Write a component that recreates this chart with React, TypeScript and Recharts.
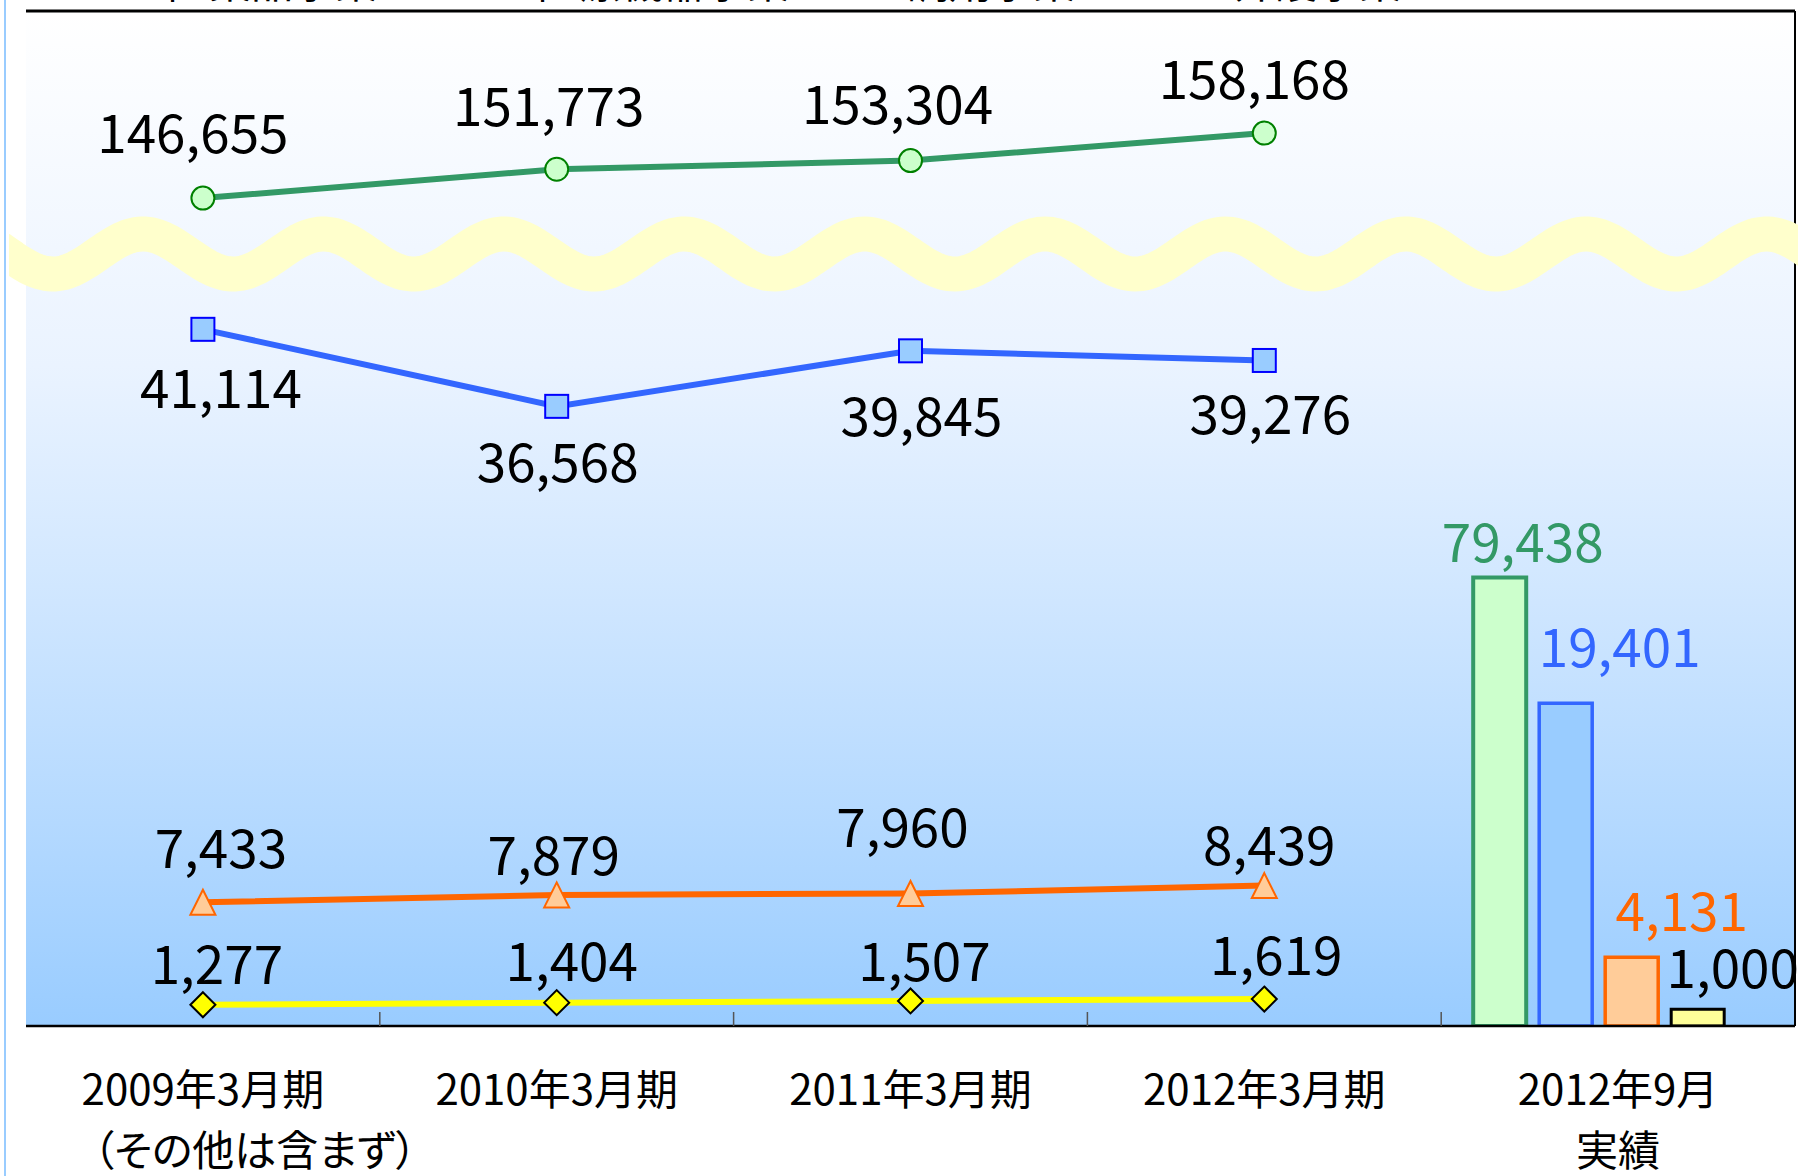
import React from "react";
import {
  ComposedChart,
  Line,
  Bar,
  XAxis,
  YAxis,
  CartesianGrid,
  LabelList,
  Legend,
  Rectangle,
} from "recharts";

const W = 1798;
const H = 1176;
const FONT = '"Noto Sans CJK JP", "Noto Sans", sans-serif';

// categories
const periods = ["2009年3月期", "2010年3月期", "2011年3月期", "2012年3月期", "2012年9月"];
const periodNotes = ["（その他は含まず）", "", "", "", "実績"];

// legend (only the bottom edge shows in the picture)
const seriesNames = ["医薬品事業", "医療機器事業", "調剤事業", "介護事業"];

// yearly values, one list per business
const greenLine = [146655, 151773, 153304, 158168, null];
const blueLine = [41114, 36568, 39845, 39276, null];
const orangeLine = [7433, 7879, 7960, 8439, null];
const yellowLine = [1277, 1404, 1507, 1619, null];

// 2012年9月 実績 bars: green, blue, orange, yellow
const latestBars = [79438, 19401, 4131, 1000];

// axis ranges (the chart uses a broken scale, so each group has its own)
const mainDomain = [0, 61000];
const blueDomain = [0, 59900];
const greenDomain = [0, 179800];

// hand placed label nudges [dx, dy] from each point / bar top
const greenLabelNudge = [[-10, -45], [-8, -43], [-13, -37], [-10, -34]];
const blueLabelNudge = [[18, 79], [1, 76], [11, 85], [6, 74]];
const orangeLabelNudge = [[18, -34], [-3, -20], [-8, -47], [5, -21]];
const yellowLabelNudge = [[14, -21], [15, -22], [14, -20], [12, -24]];
const barLabelNudge = [[23, -16], [54, -36], [50, -26], [35, -21]];

const BAR_SHIFT = -19;

const rows = periods.map((period, i) => ({
  period,
  slot: i + 0.5, // position on the helper axis that draws the boundary ticks
  green: greenLine[i],
  blue: blueLine[i],
  orange: orangeLine[i],
  yellow: yellowLine[i],
  greenBar: i === periods.length - 1 ? latestBars[0] : null,
  blueBar: i === periods.length - 1 ? latestBars[1] : null,
  orangeBar: i === periods.length - 1 ? latestBars[2] : null,
  yellowBar: i === periods.length - 1 ? latestBars[3] : null,
}));

const fmt = (v: number) => v.toLocaleString("en-US");

function makeLabel(nudges: number[][], color: string, shift = 0) {
  return function ValueLabel(props: any) {
    const { value } = props;
    if (value == null) return null;
    const vb = props.viewBox ?? {};
    const x = (props.x ?? vb.x) as number;
    const y = (props.y ?? vb.y) as number;
    const w = (props.width ?? vb.width ?? 0) as number;
    const idx = props.index ?? 0;
    const [dx, dy] = nudges[idx] ?? [0, 0];
    return (
      <text
        x={x + w / 2 + shift + dx}
        y={y + dy}
        textAnchor="middle"
        fontSize={53}
        fontFamily={FONT}
        fill={color}
      >
        {fmt(Number(value))}
      </text>
    );
  };
}

// bar labels are coloured like the bar outlines
const barLabelColors = ["#339966", "#3366FF", "#FF6600", "#000000"];
function makeBarLabel(n: number) {
  const nudge = periods.map(() => barLabelNudge[n]);
  return makeLabel(nudge, barLabelColors[n], BAR_SHIFT);
}

const circleDot = (p: any) =>
  p.cy == null || p.value == null ? (
    <g key={`c${p.index}`} />
  ) : (
    <circle key={`c${p.index}`} cx={p.cx} cy={p.cy} r={11.5} fill="#CCFFCC" stroke="#008000" strokeWidth={2} />
  );

const squareDot = (p: any) =>
  p.cy == null || p.value == null ? (
    <g key={`s${p.index}`} />
  ) : (
    <rect key={`s${p.index}`} x={p.cx - 11.5} y={p.cy - 11.5} width={23} height={23} fill="#99CCFF" stroke="#0000FF" strokeWidth={2} />
  );

const triangleDot = (p: any) =>
  p.cy == null || p.value == null ? (
    <g key={`t${p.index}`} />
  ) : (
    <polygon
      key={`t${p.index}`}
      points={`${p.cx},${p.cy - 12.5} ${p.cx + 12.5},${p.cy + 12.5} ${p.cx - 12.5},${p.cy + 12.5}`}
      fill="#FFCC99"
      stroke="#FF6600"
      strokeWidth={2}
    />
  );

const diamondDot = (p: any) =>
  p.cy == null || p.value == null ? (
    <g key={`d${p.index}`} />
  ) : (
    <polygon
      key={`d${p.index}`}
      points={`${p.cx},${p.cy - 12.5} ${p.cx + 12.5},${p.cy} ${p.cx},${p.cy + 12.5} ${p.cx - 12.5},${p.cy}`}
      fill="#FFFF00"
      stroke="#000000"
      strokeWidth={2}
    />
  );

const shiftedBar = (p: any) => <Rectangle {...p} x={p.x + BAR_SHIFT} />;

const blankTick = () => <g />;

function CategoryTick(props: any) {
  const { x, y, payload } = props;
  const idx = periods.indexOf(payload.value);
  const note = periodNotes[idx];
  const noteShift = idx === 0 ? 52 : 0;
  return (
    <g>
      <text x={x} y={y + 78} textAnchor="middle" fontSize={42} fontFamily={FONT} fill="#000">
        {payload.value}
      </text>
      {note ? (
        <text
          x={x + noteShift}
          y={y + 139}
          textAnchor="middle"
          fontSize={42}
          fontFamily={FONT}
          fill="#000"
          style={{ fontFeatureSettings: '"palt"' }}
        >
          {note}
        </text>
      ) : null}
    </g>
  );
}

function LegendStrip() {
  const places = [
    { marker: 131, text: 167 },
    { marker: 498, text: 537 },
    { marker: 0, text: 907 },
    { marker: 0, text: 1233 },
  ];
  return (
    <svg width={W} height={42} style={{ overflow: "visible", display: "block" }}>
      {seriesNames.map((name, i) => (
        <g key={name}>
          {places[i].marker ? (
            <rect x={places[i].marker} y={4} width={34} height={34} fill="#ffffff" stroke="#000" strokeWidth={2} />
          ) : null}
          <text x={places[i].text} y={40} fontSize={42} fontFamily={FONT} fill="#000">
            {name}
          </text>
        </g>
      ))}
    </svg>
  );
}

// decorative scale-break band
function wavePath() {
  const mid = 254;
  const amp = 20;
  const period = 180.4;
  const phase = 143;
  let d = "";
  for (let x = -20; x <= W + 20; x += 3) {
    const y = mid - amp * Math.cos((2 * Math.PI * (x - phase)) / period);
    d += (d ? " L" : "M") + x.toFixed(1) + " " + y.toFixed(1);
  }
  return d;
}

export default function App() {
  return (
    <div
      style={{
        position: "absolute",
        left: 0,
        top: 0,
        width: W,
        height: H,
        overflow: "hidden",
        background: "#ffffff",
      }}
    >
      <div style={{ position: "absolute", left: 4, top: 0, width: 2, height: H, background: "#99CCFF" }} />
      <ComposedChart
        width={W}
        height={H}
        data={rows}
        margin={{ top: 10, right: 2, bottom: 0, left: 25 }}
        barGap={13}
      >
        <defs>
          <linearGradient id="plotBg" x1="0" y1="0" x2="0" y2="1">
            <stop offset="0%" stopColor="#FFFFFF" />
            <stop offset="35%" stopColor="#EAF3FF" />
            <stop offset="55%" stopColor="#D3E8FF" />
            <stop offset="80%" stopColor="#B4D9FF" />
            <stop offset="100%" stopColor="#99CCFF" />
          </linearGradient>
        </defs>
        <CartesianGrid xAxisId="cat" yAxisId="main" horizontal={false} vertical={false} fill="url(#plotBg)" />

        <XAxis
          xAxisId="bound"
          type="number"
          dataKey="slot"
          domain={[0, 5]}
          ticks={[1, 2, 3, 4]}
          height={1}
          tick={blankTick}
          tickSize={-14}
          tickLine={{ stroke: "#555555", strokeWidth: 1.5 }}
          axisLine={{ stroke: "#000000", strokeWidth: 2.5 }}
          allowDataOverflow
        />
        <XAxis
          xAxisId="cat"
          dataKey="period"
          height={149}
          interval={0}
          tickLine={false}
          axisLine={false}
          tickSize={0}
          tickMargin={0}
          tick={<CategoryTick />}
        />
        <XAxis
          xAxisId="top"
          orientation="top"
          dataKey="period"
          height={1}
          tick={blankTick}
          tickLine={false}
          axisLine={{ stroke: "#000000", strokeWidth: 3 }}
        />

        <YAxis
          yAxisId="main"
          domain={mainDomain}
          width={1}
          tick={blankTick}
          tickLine={false}
          axisLine={{ stroke: "#000000", strokeWidth: 2 }}
          allowDataOverflow
        />
        <YAxis yAxisId="blue" domain={blueDomain} hide allowDataOverflow />
        <YAxis
          yAxisId="green"
          orientation="right"
          domain={greenDomain}
          width={1}
          tick={blankTick}
          tickLine={false}
          axisLine={{ stroke: "#000000", strokeWidth: 2 }}
          allowDataOverflow
        />

        <Bar xAxisId="cat" yAxisId="green" dataKey="greenBar" name={seriesNames[0]} barSize={53} fill="#CCFFCC" stroke="#339966" strokeWidth={4} shape={shiftedBar} isAnimationActive={false}>
          <LabelList dataKey="greenBar" content={makeBarLabel(0)} />
        </Bar>
        <Bar xAxisId="cat" yAxisId="main" dataKey="blueBar" name={seriesNames[1]} barSize={53} fill="#99CCFF" stroke="#3366FF" strokeWidth={3.5} shape={shiftedBar} isAnimationActive={false}>
          <LabelList dataKey="blueBar" content={makeBarLabel(1)} />
        </Bar>
        <Bar xAxisId="cat" yAxisId="main" dataKey="orangeBar" name={seriesNames[2]} barSize={53} fill="#FFCC99" stroke="#FF6600" strokeWidth={3.5} shape={shiftedBar} isAnimationActive={false}>
          <LabelList dataKey="orangeBar" content={makeBarLabel(2)} />
        </Bar>
        <Bar xAxisId="cat" yAxisId="main" dataKey="yellowBar" name={seriesNames[3]} barSize={53} fill="#FFFF99" stroke="#000000" strokeWidth={3} shape={shiftedBar} isAnimationActive={false}>
          <LabelList dataKey="yellowBar" content={makeBarLabel(3)} />
        </Bar>

        <Line xAxisId="cat" yAxisId="green" dataKey="green" type="linear" stroke="#339966" strokeWidth={6} dot={circleDot} activeDot={false} isAnimationActive={false}>
          <LabelList dataKey="green" content={makeLabel(greenLabelNudge, "#000000")} />
        </Line>
        <Line xAxisId="cat" yAxisId="blue" dataKey="blue" type="linear" stroke="#3366FF" strokeWidth={6} dot={squareDot} activeDot={false} isAnimationActive={false}>
          <LabelList dataKey="blue" content={makeLabel(blueLabelNudge, "#000000")} />
        </Line>
        <Line xAxisId="cat" yAxisId="main" dataKey="orange" type="linear" stroke="#FF6600" strokeWidth={6} dot={triangleDot} activeDot={false} isAnimationActive={false}>
          <LabelList dataKey="orange" content={makeLabel(orangeLabelNudge, "#000000")} />
        </Line>
        <Line xAxisId="cat" yAxisId="main" dataKey="yellow" type="linear" stroke="#FFFF00" strokeWidth={6} dot={diamondDot} activeDot={false} isAnimationActive={false}>
          <LabelList dataKey="yellow" content={makeLabel(yellowLabelNudge, "#000000")} />
        </Line>

        <Legend
          layout="horizontal"
          verticalAlign="middle"
          align="center"
          content={<LegendStrip />}
          wrapperStyle={{ top: -42, left: 0, width: W, height: 42 }}
        />
      </ComposedChart>
      <svg
        width={W}
        height={H}
        style={{ position: "absolute", left: 0, top: 0, pointerEvents: "none" }}
      >
        <defs>
          <clipPath id="waveClip">
            <rect x={9} y={0} width={W - 9} height={H} />
          </clipPath>
        </defs>
        <path d={wavePath()} fill="none" stroke="#FFFFCC" strokeWidth={35} clipPath="url(#waveClip)" />
      </svg>
    </div>
  );
}
